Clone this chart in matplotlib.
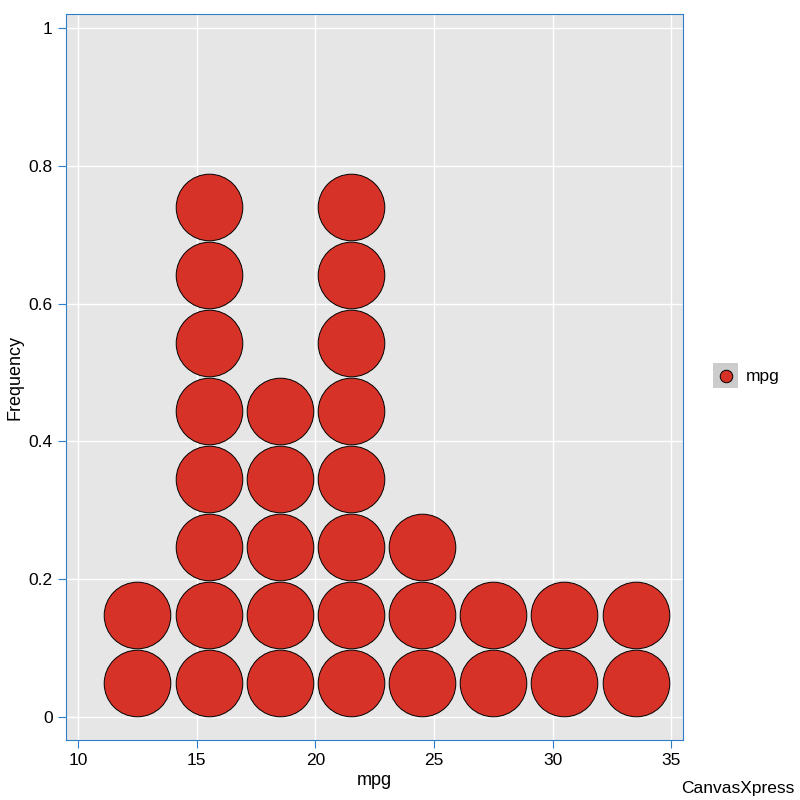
import matplotlib
matplotlib.use("Agg")
import matplotlib.pyplot as plt
from matplotlib.patches import Rectangle

plt.rcParams['font.family'] = ['Liberation Sans', 'DejaVu Sans']

# bin centres of mpg and how many dots are stacked in each
bin_centres = [12.5, 15.5, 18.5, 21.5, 24.5, 27.5, 30.5, 33.5]
bin_counts = [2, 8, 5, 8, 3, 2, 2, 2]
dot_step = 0.0988
dot_base = 0.049

xs = []
ys = []
for c, n in zip(bin_centres, bin_counts):
    for k in range(n):
        xs.append(c)
        ys.append(dot_base + dot_step * k)

fig = plt.figure(figsize=(8, 8), dpi=100)
ax = fig.add_axes([0.0825, 0.075, 0.7715, 0.9075])
ax.set_facecolor('#e6e6e6')
ax.set_xlim(9.494, 35.506)
ax.set_ylim(-0.0334, 1.0203)
ax.grid(True, color='white', linewidth=1)
ax.set_axisbelow(True)

ax.scatter(xs, ys, s=2300, color='#d63227', edgecolors='black', linewidths=0.7, zorder=3)

ax.set_xticks([10, 15, 20, 25, 30, 35])
ax.set_yticks([0, 0.2, 0.4, 0.6, 0.8, 1])
ax.set_yticklabels(['0', '0.2', '0.4', '0.6', '0.8', '1'])
axis_blue = '#2f7fc8'
for s in ax.spines.values():
    s.set_color(axis_blue)
ax.tick_params(colors=axis_blue, labelcolor='black', labelsize=12.5, length=6)
ax.set_xlabel('mpg', fontsize=13, labelpad=3)
ax.set_ylabel('Frequency', fontsize=13, labelpad=4)

# legend drawn by hand, grey box with a red dot
fig.patches.append(Rectangle((713 / 800, 1 - 388 / 800), 25 / 800, 25 / 800,
                             transform=fig.transFigure, facecolor='#cccccc', edgecolor='none'))
fig.add_artist(plt.Line2D([725.5 / 800], [1 - 375.5 / 800], marker='o', markersize=9,
                          markerfacecolor='#d63227', markeredgecolor='black', markeredgewidth=0.7,
                          transform=fig.transFigure))
fig.text(746 / 800, 1 - 376 / 800, 'mpg', fontsize=12.5, va='center', ha='left')

fig.text(794 / 800, 1 - 789 / 800, 'CanvasXpress', fontsize=12.5, va='center', ha='right')

fig.savefig('out.png', dpi=100)
